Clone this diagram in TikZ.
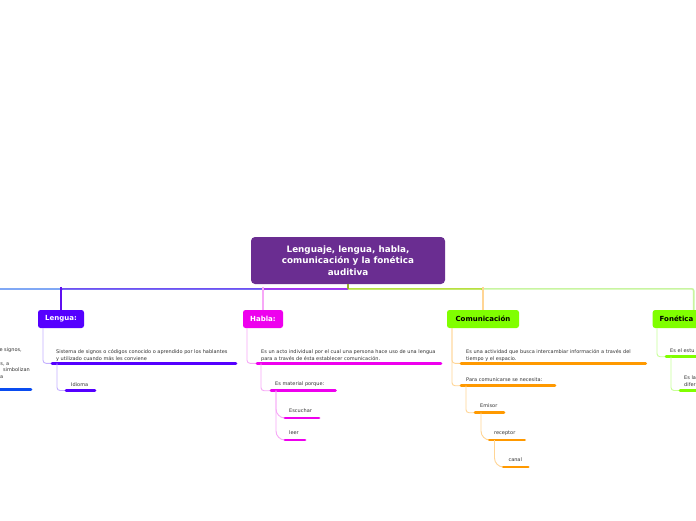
\documentclass[tikz,border=0pt]{standalone}
\usepackage{fontspec}
\setmainfont{DejaVu Sans}
\definecolor{titlec}{HTML}{6A2D91}
\definecolor{lenc}{HTML}{5500FF}
\definecolor{habc}{HTML}{EE00EE}
\definecolor{limec}{HTML}{80FF00}
\definecolor{orac}{HTML}{FF9900}
\definecolor{txtc}{HTML}{333333}
\definecolor{lenl}{HTML}{C4B0FF}
\definecolor{habl}{HTML}{F7A8F7}
\definecolor{oral}{HTML}{FFD595}
\definecolor{fonl}{HTML}{C8FF99}
\definecolor{offc}{HTML}{80A8F5}
\definecolor{lenh}{HTML}{7050F2}
\definecolor{lenv}{HTML}{6010F0}
\definecolor{habh}{HTML}{A830F0}
\definecolor{comh}{HTML}{B8E040}
\definecolor{fonh}{HTML}{C8F5A0}
\definecolor{trunkc}{HTML}{98B030}
\definecolor{offbar}{HTML}{0A4CF0}
\begin{document}
\begin{tikzpicture}[x=1pt,y=-1pt,
  txt/.style={font=\fontsize{5}{6.8}\selectfont, text=txtc, inner sep=0pt, anchor=base west, align=left},
  bar/.style={line width=2.7pt, line cap=round},
  conn/.style={line width=0.9pt, rounded corners=3pt},
  curv/.style={line width=0.9pt, rounded corners=9pt},
  mline/.style={line width=1.6pt, rounded corners=2pt},
  topic/.style={rounded corners=2.5pt, minimum height=18pt, inner sep=0pt, font=\fontsize{7}{8}\selectfont\bfseries},
  titlebox/.style={rounded corners=4pt, minimum width=194pt, minimum height=47pt, inner sep=0pt, fill=titlec, text=white, align=center, font=\fontsize{8.8}{11.5}\selectfont\bfseries}]
\useasboundingbox (0,0) rectangle (696,520);
\clip (0,0) rectangle (696,520);
\fill[white] (0,0) rectangle (696,520);

% nodes
\node[titlebox] (root) at (348,260.5) {Lenguaje, lengua, habla,\\comunicación y la fonética\\auditiva};
\node[topic, fill=lenc, text=white, minimum width=46pt] (lengua) at (61,319) {Lengua:};
\node[topic, fill=habc, text=white, minimum width=40pt] (habla) at (263,319) {Habla:};
\node[topic, fill=limec, text=black, minimum width=72pt] (comu) at (483,319) {Comunicación};
\node[topic, fill=limec, text=black, minimum width=82pt, text width=68pt, align=left] (fone) at (693.7,319) {Fonética};

% main connectors
\coordinate (hub) at (348,288.8);
\coordinate (offl) at (-5,288.8);
\draw[mline, offc] (hub) -- (offl);
\draw[mline, lenh] (hub) -| (lengua.north);
\draw[mline, lenv] ([yshift=2pt]lengua.north |- hub) -- (lengua.north);
\draw[mline, habh] (hub) -| (habla.north);
\draw[mline, habl] ([yshift=2pt]habla.north |- hub) -- (habla.north);
\draw[mline, fonh] (hub) -| (fone.north);
\draw[mline, comh] (hub) -| (comu.north);
\draw[mline, oral] ([yshift=2pt]comu.north |- hub) -- (comu.north);
\draw[mline, trunkc] (root.south) -- (hub);

% Lengua
\node[txt, anchor=south west] (l1) at (56,361.3) {Sistema de signos o códigos conocido o aprendido por los hablantes\\y utilizado cuando más les conviene};
\coordinate (l1a) at (52,363.3); \coordinate (l1b) at (236,363.3);
\draw[conn, lenl] (43,328) |- (l1a);
\draw[bar, lenc] (l1a) -- (l1b);
\node[txt] (l2) at (71,386) {Idioma};
\coordinate (l2a) at (66,390.5); \coordinate (l2b) at (95,390.5);
\draw[conn, lenl] (57,363.3) |- (l2a);
\draw[bar, lenc] (l2a) -- (l2b);

% Habla
\node[txt, anchor=south west] (h1) at (261,361.3) {Es un acto individual por el cual una persona hace uso de una lengua\\para a través de ésta establecer comunicación.};
\coordinate (h1a) at (257,363.3); \coordinate (h1b) at (441,363.3);
\draw[conn, habl] (247,328) |- (h1a);
\draw[bar, habc] (h1a) -- (h1b);
\node[txt] (h2) at (275,385.5) {Es material porque:};
\coordinate (h2a) at (271,390.7); \coordinate (h2b) at (335.5,390.7);
\draw[conn, habl] (261,363.3) |- (h2a);
\draw[bar, habc] (h2a) -- (h2b);
\node[txt] (h3) at (289,412.7) {Escuchar};
\coordinate (h3a) at (285,418); \coordinate (h3b) at (319,418);
\draw[curv, habl] (276,390.7) |- (h3a);
\draw[bar, habc] (h3a) -- (h3b);
\node[txt] (h4) at (289,434.7) {leer};
\coordinate (h4a) at (285,440); \coordinate (h4b) at (305,440);
\draw[curv, habl] (276,390.7) |- (h4a);
\draw[bar, habc] (h4a) -- (h4b);

% Comunicacion
\node[txt, anchor=south west] (c1) at (466,361.3) {Es una actividad que busca intercambiar información a través del\\tiempo y el espacio.};
\coordinate (c1a) at (461,363.3); \coordinate (c1b) at (645.7,363.3);
\draw[conn, oral] (452,328) |- (c1a);
\draw[bar, orac] (c1a) -- (c1b);
\node[txt] (c2) at (466,381) {Para comunicarse se necesita:};
\coordinate (c2a) at (461,385.7); \coordinate (c2b) at (555,385.7);
\draw[conn, oral] (452,328) |- (c2a);
\draw[bar, orac] (c2a) -- (c2b);
\node[txt] (c3) at (480,407.7) {Emisor};
\coordinate (c3a) at (475,412.7); \coordinate (c3b) at (504,412.7);
\draw[conn, oral] (466,385.7) |- (c3a);
\draw[bar, orac] (c3a) -- (c3b);
\node[txt] (c4) at (494,434.7) {receptor};
\coordinate (c4a) at (489.3,440); \coordinate (c4b) at (524.7,440);
\draw[curv, oral] (481,412.7) |- (c4a);
\draw[bar, orac] (c4a) -- (c4b);
\node[txt] (c5) at (508.3,461.7) {canal};
\coordinate (c5a) at (503.3,467); \coordinate (c5b) at (528.3,467);
\draw[curv, oral] (494.5,440) |- (c5a);
\draw[bar, orac] (c5a) -- (c5b);

% Fonetica
\node[txt] (f1) at (670,352.5) {Es el estu};
\coordinate (f1a) at (666,356.7); \coordinate (f1b) at (702,356.7);
\draw[conn, fonl] (657,328) |- (f1a);
\draw[bar, limec] (f1a) -- (f1b);
\node[txt, anchor=south west] (f2) at (684,386.5) {Es la\\difer};
\coordinate (f2a) at (680,390.5); \coordinate (f2b) at (702,390.5);
\draw[conn, fonl] (671,356.7) |- (f2a);
\draw[bar, limec] (f2a) -- (f2b);

% off-screen left branch
\node[txt, anchor=base east] (x1) at (22,351.8) {de signos,};
\node[txt, anchor=base east] (x3) at (9.5,365.2) {os, a};
\node[txt, anchor=base east] (x4) at (30,371.9) {simbolizan};
\node[txt, anchor=base east] (x5) at (3.5,378.6) {la};
\coordinate (xa) at (-5,389.5); \coordinate (xb) at (31,389.5);
\draw[bar, offbar] (xa) -- (xb);
\end{tikzpicture}
\end{document}
